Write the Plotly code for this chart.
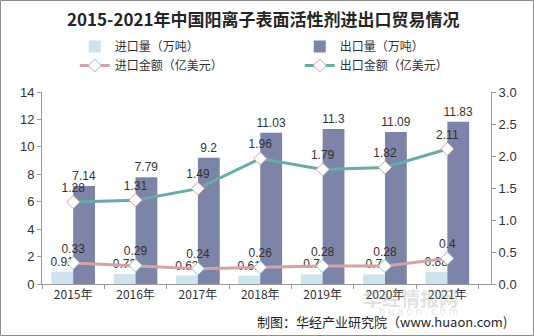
import plotly.graph_objects as go

# 数据：2015-2021年中国阳离子表面活性剂进出口
years = ["2015年", "2016年", "2017年", "2018年", "2019年", "2020年", "2021年"]
import_volume = [0.91, 0.73, 0.62, 0.61, 0.7, 0.7, 0.88]        # 万吨
export_volume = [7.14, 7.79, 9.2, 11.03, 11.3, 11.09, 11.83]    # 万吨
import_value = [0.33, 0.29, 0.24, 0.26, 0.28, 0.28, 0.4]        # 亿美元
export_value = [1.28, 1.31, 1.49, 1.96, 1.79, 1.82, 2.11]       # 亿美元

W, H = 534, 336
ML, MR, MT, MB = 42, 43, 92, 52

num_font = "Arial, Liberation Sans, Noto Sans CJK SC"
cjk_font = "Noto Sans CJK SC, Microsoft YaHei, sans-serif"
text_col = "#333333"
axis_col = "#9a9a9a"

fig = go.Figure()

fig.add_trace(go.Bar(
    x=years, y=import_volume, name="进口量（万吨）",
    marker=dict(color="#cfe3ee", line=dict(width=0)),
    text=[f"{v:g}" for v in import_volume], textposition="outside",
    constraintext="none",
    textfont=dict(size=12, color=text_col, family=num_font),
    cliponaxis=False,
))
fig.add_trace(go.Bar(
    x=years, y=export_volume, name="出口量（万吨）",
    marker=dict(color="#7c84a8", line=dict(width=0)),
    text=[f"{v:g}" for v in export_volume], textposition="outside",
    constraintext="none",
    textfont=dict(size=12, color=text_col, family=num_font),
    cliponaxis=False,
))
fig.add_trace(go.Scatter(
    x=years, y=import_value, name="进口金额（亿美元）", yaxis="y2",
    mode="lines+markers+text",
    line=dict(color="#d5a3a4", width=3),
    marker=dict(symbol="diamond", size=10, color="white",
                line=dict(color="#8fc3c0", width=1)),
    text=[f"{v:g}" for v in import_value], textposition="top center",
    textfont=dict(size=12, color=text_col, family=num_font),
    cliponaxis=False,
))
fig.add_trace(go.Scatter(
    x=years, y=export_value, name="出口金额（亿美元）", yaxis="y2",
    mode="lines+markers+text",
    line=dict(color="#67aca6", width=3),
    marker=dict(symbol="diamond", size=10, color="white",
                line=dict(color="#d9a3a4", width=1)),
    text=[f"{v:g}" for v in export_value], textposition="top center",
    textfont=dict(size=12, color=text_col, family=num_font),
    cliponaxis=False,
))

# 外框
pw = W - ML - MR
ph = H - MT - MB
fig.add_shape(
    type="rect", xref="paper", yref="paper",
    x0=(0.5 - ML) / pw, x1=(W - 0.5 - ML) / pw,
    y0=-(MB - 0.5) / ph, y1=1 + (MT - 0.5) / ph,
    line=dict(width=1, color="#8c8c8c"), fillcolor="rgba(0,0,0,0)",
    layer="below",
)

fig.update_layout(
    width=W, height=H,
    margin=dict(l=ML, r=MR, t=MT, b=MB, autoexpand=False),
    paper_bgcolor="white", plot_bgcolor="white",
    barmode="group", bargap=0.3, bargroupgap=0,
    title=dict(
        text="<b>2015-2021年中国阳离子表面活性剂进出口贸易情况</b>",
        x=0.493, xref="container", xanchor="center",
        y=1 - 20 / H, yref="container", yanchor="middle",
        font=dict(size=17, color="#262626", family=cjk_font),
    ),
    legend=dict(
        orientation="h", xref="container", yref="container",
        x=0.14, xanchor="left", y=1 - 32 / H, yanchor="top",
        entrywidth=180, entrywidthmode="pixels",
        font=dict(size=12, color=text_col, family=cjk_font),
        bgcolor="rgba(0,0,0,0)", tracegroupgap=0, itemwidth=30,
    ),
    xaxis=dict(
        type="category", range=[-0.5, 6.7],
        showline=True, linecolor=axis_col, linewidth=1,
        ticks="outside", tickson="boundaries", ticklen=4, tickcolor=axis_col,
        tickfont=dict(size=12, color=text_col, family=cjk_font),
        showgrid=False, zeroline=False,
    ),
    yaxis=dict(
        range=[0, 14], dtick=2,
        showline=True, linecolor=axis_col, linewidth=1,
        ticks="outside", ticklen=4, tickcolor=axis_col,
        tickfont=dict(size=13, color=text_col, family=num_font),
        showgrid=False, zeroline=False,
    ),
    yaxis2=dict(
        range=[0, 3], dtick=0.5, tickformat=".1f",
        overlaying="y", side="right",
        showline=True, linecolor=axis_col, linewidth=1,
        ticks="outside", ticklen=4, tickcolor=axis_col,
        tickfont=dict(size=13, color=text_col, family=num_font),
        showgrid=False, zeroline=False,
    ),
    showlegend=True,
)

# 水印与出处
fig.add_annotation(
    text="<b>华经情报网</b>", xref="paper", yref="paper",
    x=(460 - ML) / pw, y=-(297 - (H - MB)) / ph, yanchor="middle",
    showarrow=False, font=dict(size=19, color="rgba(150,150,150,0.3)", family=cjk_font),
)
fig.add_annotation(
    text="h u a o n . c o m", xref="paper", yref="paper",
    x=(460 - ML) / pw, y=-(311 - (H - MB)) / ph, yanchor="middle",
    showarrow=False, font=dict(size=11, color="rgba(170,170,170,0.35)", family=num_font),
)
fig.add_annotation(
    text="制图：华经产业研究院（www.huaon.com)", xref="paper", yref="paper",
    x=(509 - ML) / pw, xanchor="right", y=-(321 - (H - MB)) / ph, yanchor="middle",
    showarrow=False, font=dict(size=13, color="#262626", family=cjk_font),
)

fig.write_html("out.html")
